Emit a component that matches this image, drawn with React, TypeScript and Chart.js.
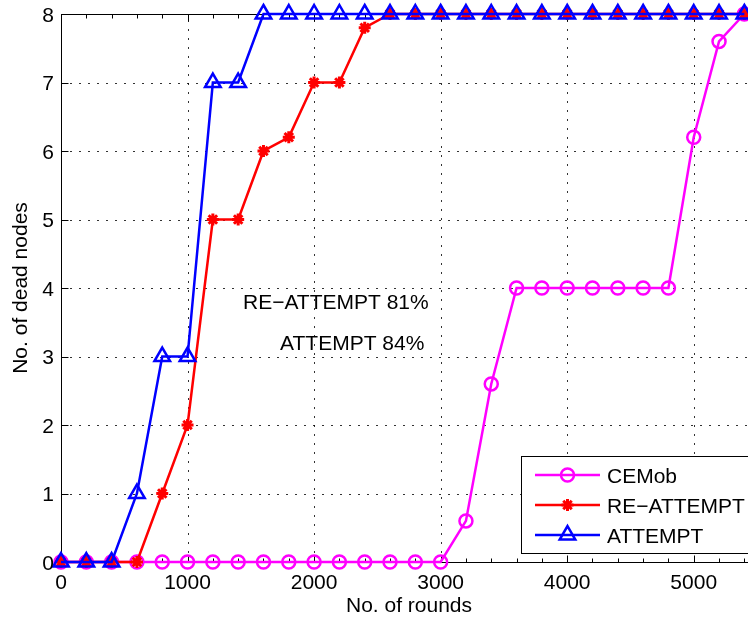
import React, { useEffect, useRef } from "react";
import { Chart, registerables } from "chart.js";

Chart.register(...registerables);

const ROUNDS = [0, 200, 400, 600, 800, 1000, 1200, 1400, 1600, 1800, 2000, 2200, 2400, 2600, 2800, 3000, 3200, 3400, 3600, 3800, 4000, 4200, 4400, 4600, 4800, 5000, 5200, 5400];
const CEMOB = [0, 0, 0, 0, 0, 0, 0, 0, 0, 0, 0, 0, 0, 0, 0, 0, 0.6, 2.6, 4, 4, 4, 4, 4, 4, 4, 6.2, 7.6, 8];
const RE_ATTEMPT = [0, 0, 0, 0, 1, 2, 5, 5, 6, 6.2, 7, 7, 7.8, 8, 8, 8, 8, 8, 8, 8, 8, 8, 8, 8, 8, 8, 8, 8];
const ATTEMPT = [0, 0, 0, 1, 3, 3, 7, 7, 8, 8, 8, 8, 8, 8, 8, 8, 8, 8, 8, 8, 8, 8, 8, 8, 8, 8, 8, 8];
const SERIES_NAMES = ["CEMob", "RE\u2212ATTEMPT", "ATTEMPT"];
const X_TICKS = [0, 1000, 2000, 3000, 4000, 5000];
const Y_TICKS = [0, 1, 2, 3, 4, 5, 6, 7, 8];
const X_TITLE = "No. of rounds";
const Y_TITLE = "No. of dead nodes";
const NOTE_TEXTS = ["RE\u2212ATTEMPT 81%", "ATTEMPT 84%"];
const NOTE_X = [1438, 1731];
const NOTE_Y = [3.69, 3.09];

const X_MIN = 0;
const X_MAX = 5500;
const Y_MIN = 0;
const Y_MAX = 8;

const COLORS = ["#ff00ff", "#ff0000", "#0000ff"];
const STYLES = ["circle", "star", "triangle"];
const RADII = [6.5, 6, 9];
const MARKER_WIDTHS = [2.5, 3, 2.5];
const FONT = '21px "Liberation Sans", Arial, Helvetica, sans-serif';

const W = 800;
const H = 617;

function drawMarker(ctx: CanvasRenderingContext2D, style: string, x: number, y: number, r: number, color: string, lw: number) {
  ctx.save();
  ctx.strokeStyle = color;
  ctx.lineWidth = lw;
  ctx.setLineDash([]);
  ctx.beginPath();
  if (style === "circle") {
    ctx.arc(x, y, r, 0, Math.PI * 2);
  } else if (style === "triangle") {
    let rad = 0;
    const t = (2 * Math.PI) / 3;
    ctx.moveTo(x + Math.sin(rad) * r, y - Math.cos(rad) * r);
    rad += t;
    ctx.lineTo(x + Math.sin(rad) * r, y - Math.cos(rad) * r);
    rad += t;
    ctx.lineTo(x + Math.sin(rad) * r, y - Math.cos(rad) * r);
    ctx.closePath();
  } else {
    for (let k = 0; k < 4; k++) {
      const a = (k * Math.PI) / 4;
      ctx.moveTo(x - Math.cos(a) * r, y - Math.sin(a) * r);
      ctx.lineTo(x + Math.cos(a) * r, y + Math.sin(a) * r);
    }
  }
  ctx.stroke();
  ctx.restore();
}

const framePlugin = {
  id: "matlabFrame",
  beforeDatasetsDraw(chart: any) {
    const ctx: CanvasRenderingContext2D = chart.ctx;
    const { left, right, top, bottom } = chart.chartArea;
    const xs = chart.scales.x;
    const ys = chart.scales.y;
    ctx.save();
    ctx.strokeStyle = "rgba(0,0,0,0.8)";
    ctx.lineWidth = 1;
    ctx.setLineDash([2, 7]);
    X_TICKS.forEach((v) => {
      const px = Math.round(xs.getPixelForValue(v)) + 0.5;
      ctx.beginPath();
      ctx.moveTo(px, bottom);
      ctx.lineTo(px, top);
      ctx.stroke();
    });
    Y_TICKS.forEach((v) => {
      const py = Math.round(ys.getPixelForValue(v)) + 0.5;
      ctx.beginPath();
      ctx.moveTo(left, py);
      ctx.lineTo(right, py);
      ctx.stroke();
    });
    ctx.setLineDash([]);
    ctx.strokeStyle = "#000";
    ctx.lineWidth = 1;
    const L = Math.round(left) + 0.5;
    const R = Math.round(right) + 0.5;
    const T = Math.round(top) + 0.5;
    const B = Math.round(bottom) + 0.5;
    ctx.strokeRect(L, T, R - L, B - T);
    ctx.beginPath();
    X_TICKS.forEach((v) => {
      const px = Math.round(xs.getPixelForValue(v)) + 0.5;
      ctx.moveTo(px, B);
      ctx.lineTo(px, B - 7);
      ctx.moveTo(px, T);
      ctx.lineTo(px, T + 7);
    });
    Y_TICKS.forEach((v) => {
      const py = Math.round(ys.getPixelForValue(v)) + 0.5;
      ctx.moveTo(L, py);
      ctx.lineTo(L + 7, py);
      ctx.moveTo(R, py);
      ctx.lineTo(R - 7, py);
    });
    for (let v = X_MIN; v <= X_MAX; v += 200) {
      if (v % 1000 === 0) continue;
      const px = Math.round(xs.getPixelForValue(v)) + 0.5;
      ctx.moveTo(px, B);
      ctx.lineTo(px, B - 4);
      ctx.moveTo(px, T);
      ctx.lineTo(px, T + 4);
    }
    ctx.stroke();
    ctx.restore();
  },
  afterDatasetsDraw(chart: any) {
    const ctx: CanvasRenderingContext2D = chart.ctx;
    const { left, right, top, bottom } = chart.chartArea;
    const xs = chart.scales.x;
    const ys = chart.scales.y;
    ctx.save();
    ctx.font = FONT;
    ctx.fillStyle = "#000";
    ctx.textAlign = "right";
    ctx.textBaseline = "alphabetic";
    Y_TICKS.forEach((v) => {
      ctx.fillText(String(v), 54, ys.getPixelForValue(v) + 7.5);
    });
    ctx.textAlign = "center";
    X_TICKS.forEach((v) => {
      ctx.fillText(String(v), xs.getPixelForValue(v), bottom + 27);
    });
    ctx.fillText(X_TITLE, (left + right) / 2, bottom + 50);
    ctx.save();
    ctx.translate(27, (top + bottom) / 2);
    ctx.rotate(-Math.PI / 2);
    ctx.fillText(Y_TITLE, 0, 0);
    ctx.restore();
    ctx.textAlign = "left";
    NOTE_TEXTS.forEach((t, i) => {
      ctx.fillText(t, xs.getPixelForValue(NOTE_X[i]), ys.getPixelForValue(NOTE_Y[i]));
    });
    const bx = 521.5;
    const by = 456.5;
    const bw = 250;
    const bh = 97;
    ctx.fillStyle = "#fff";
    ctx.fillRect(bx, by, bw, bh);
    ctx.strokeStyle = "#000";
    ctx.lineWidth = 1;
    ctx.strokeRect(bx, by, bw, bh);
    const rows = [475, 505, 535];
    SERIES_NAMES.forEach((name, i) => {
      const yy = rows[i];
      ctx.strokeStyle = COLORS[i];
      ctx.lineWidth = 2.5;
      ctx.beginPath();
      ctx.moveTo(535, yy);
      ctx.lineTo(600, yy);
      ctx.stroke();
      drawMarker(ctx, STYLES[i], 567.5, yy, RADII[i], COLORS[i], MARKER_WIDTHS[i]);
      ctx.fillStyle = "#000";
      ctx.textAlign = "left";
      ctx.fillText(name, 607, yy + 7.5);
    });
    ctx.restore();
  },
};

export default function App() {
  const ref = useRef<HTMLCanvasElement | null>(null);

  useEffect(() => {
    if (!ref.current) return;
    const seriesValues = [CEMOB, RE_ATTEMPT, ATTEMPT];
    const orders = [2, 1, 0];
    const chart = new Chart(ref.current, {
      type: "line",
      data: {
        datasets: SERIES_NAMES.map((name, i) => ({
          label: name,
          data: ROUNDS.map((r, k) => ({ x: r, y: seriesValues[i][k] })),
          borderColor: COLORS[i],
          backgroundColor: "rgba(0,0,0,0)",
          borderWidth: 2.5,
          pointStyle: STYLES[i] as any,
          pointRadius: RADII[i],
          pointBorderWidth: MARKER_WIDTHS[i],
          pointBorderColor: COLORS[i],
          pointBackgroundColor: "rgba(0,0,0,0)",
          tension: 0,
          fill: false,
          clip: false as any,
          order: orders[i],
        })),
      },
      options: {
        responsive: false,
        animation: false,
        events: [],
        layout: { padding: { left: 61, top: 14, right: W - 757, bottom: H - 562 } },
        plugins: {
          legend: { display: false },
          tooltip: { enabled: false },
          title: { display: false },
        },
        scales: {
          x: {
            type: "linear",
            min: X_MIN,
            max: X_MAX,
            ticks: { display: false },
            grid: { display: false },
            border: { display: false },
            afterFit: (s: any) => {
              s.height = 0;
            },
            afterBuildTicks: (s: any) => {
              s.ticks = X_TICKS.map((v) => ({ value: v }));
            },
          },
          y: {
            type: "linear",
            min: Y_MIN,
            max: Y_MAX,
            ticks: { display: false },
            grid: { display: false },
            border: { display: false },
            afterFit: (s: any) => {
              s.width = 0;
            },
            afterBuildTicks: (s: any) => {
              s.ticks = Y_TICKS.map((v) => ({ value: v }));
            },
          },
        },
      },
      plugins: [framePlugin],
    });
    return () => chart.destroy();
  }, []);

  return (
    <div
      style={{
        position: "fixed",
        left: 0,
        top: 0,
        width: 748,
        height: 617,
        overflow: "hidden",
        background: "#fff",
      }}
    >
      <canvas ref={ref} width={W} height={H} style={{ display: "block", width: W, height: H }} />
    </div>
  );
}
